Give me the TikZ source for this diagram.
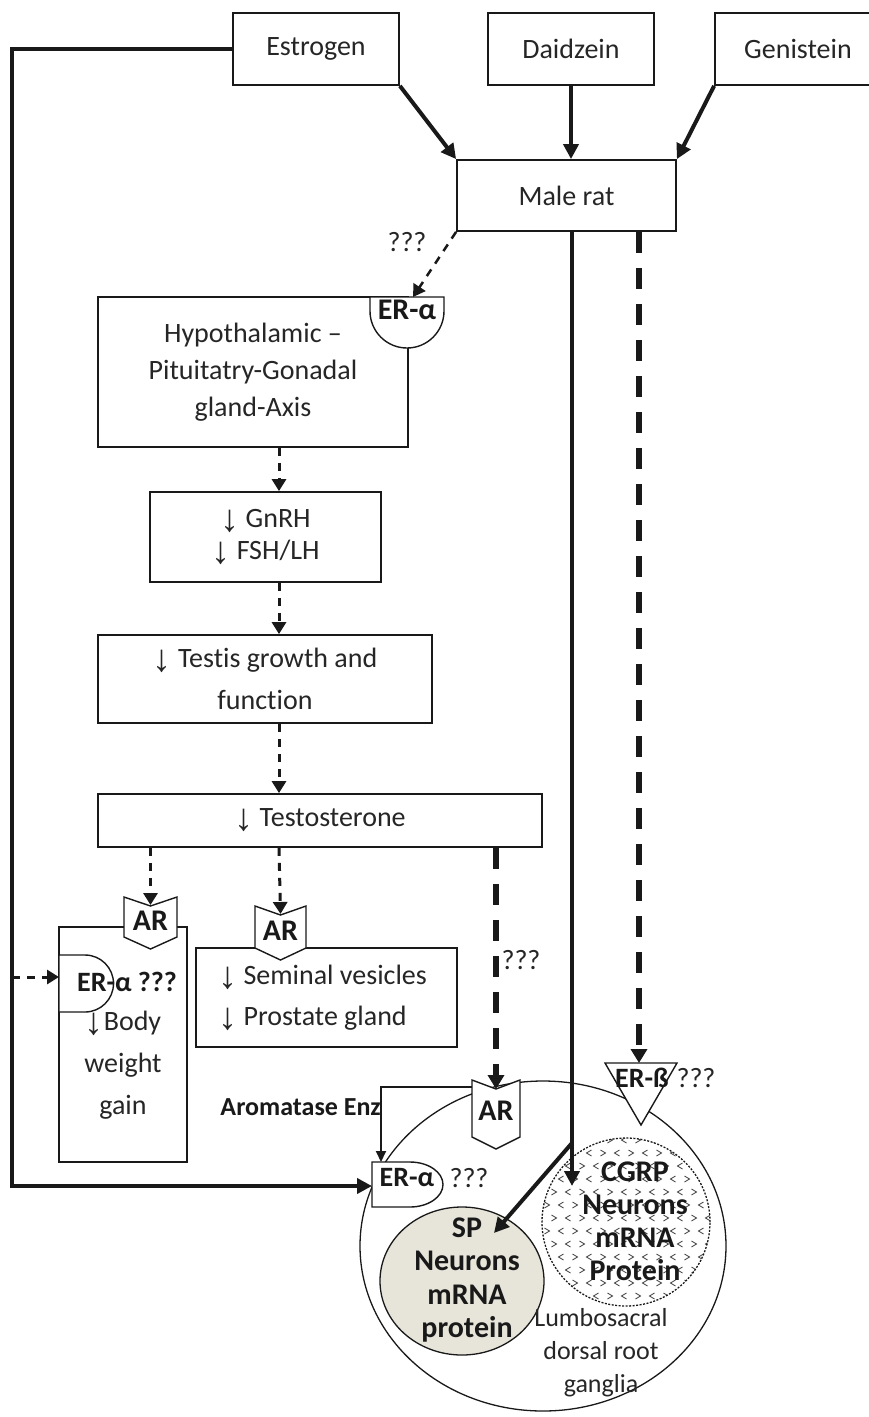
\documentclass[tikz,border=0pt]{standalone}
\usepackage{fontspec}
\setmainfont{Carlito}[Ligatures={TeX,NoCommon}]
\newfontfamily\arrfont{Liberation Sans}
\newcommand{\dn}{\raisebox{-4pt}{\arrfont\fontsize{38}{38}\selectfont ↓}}
\usetikzlibrary{arrows.meta,calc,shapes.geometric}
\newcommand{\arshp}[4]{% #1 cx, #2 top y, #3 half width, #4 side height
  \draw[recep] (#1-#3,#2) -- (#1,#2-9) -- (#1+#3,#2) -- (#1+#3,#2-#4) -- (#1,#2-#4-12) -- (#1-#3,#2-#4) -- cycle;}
\begin{document}
\begin{tikzpicture}[x=1pt,y=1pt,
  box/.style={draw=black!90, line width=1.8pt, fill=white, inner sep=0pt, align=center, text=black!85, font=\fontsize{28}{36}\selectfont},
  txt/.style={inner sep=0pt, align=center, text=black!85, font=\fontsize{28}{36}\selectfont},
  btxt/.style={inner sep=0pt, align=center, text=black!90, font=\bfseries\fontsize{28}{34}\selectfont},
  recep/.style={draw=black!90, line width=1.4pt, fill=white},
  thickarrow/.style={draw=black!90, line width=4pt, -{Triangle[length=15pt,width=15pt]}},
  thickline/.style={draw=black!90, line width=4pt},
  thinarrow/.style={draw=black!90, line width=1.8pt, -{Triangle[length=11pt,width=10pt]}},
  dasharrow/.style={draw=black!90, line width=3pt, dash pattern=on 8pt off 7pt, -{Triangle[length=12pt,width=14pt]}},
  bigdash/.style={draw=black!90, line width=5.5pt, dash pattern=on 21pt off 15pt, -{Triangle[length=14pt,width=16pt]}}
]
\useasboundingbox (0,0) rectangle (869,-1417);

% ---- top boxes
\node[box, minimum width=166, minimum height=72] (estrogen) at (316,-49) {Estrogen};
\node[box, minimum width=166, minimum height=72] (daidzein) at (571,-49) {Daidzein};
\node[box, minimum width=166, minimum height=72] (genistein) at (798,-49) {Genistein};
\node[box, minimum width=219, minimum height=71] (malerat) at (566.5,-195.5) {Male rat};

\draw[thickarrow] (estrogen.south east) -- (malerat.north west);
\draw[thickarrow] (daidzein.south) -- (daidzein.south |- malerat.north);
\draw[thickarrow] (genistein.south west) -- (malerat.north east);

% ---- HPG axis chain
\node[box, minimum width=310, minimum height=150, font=\fontsize{28}{37}\selectfont] (hypo) at (253,-372) {Hypothalamic --\\Pituitatry-Gonadal\\gland-Axis};
\draw[recep] (370,-297) -- (444,-297) -- (444,-311) arc[start angle=0,end angle=-180,radius=37] -- cycle;
\node[btxt, font=\bfseries\fontsize{30}{34}\selectfont] (era1) at (407,-310) {ER-α};
\coordinate (era1top) at (413,-297);
\draw[dasharrow, line width=2.5pt] (malerat.south west) -- (era1top);
\node[txt] (q1) at (407,-242) {???};

\node[box, minimum width=231, minimum height=90, font=\fontsize{28}{32}\selectfont] (gnrh) at (265.5,-537) {\dn\ GnRH\\\dn\ FSH/LH};
\node[box, minimum width=334, minimum height=88, font=\fontsize{28}{42}\selectfont] (testis) at (265,-679) {\dn\ Testis growth and\\function};
\node[box, minimum width=444, minimum height=53] (testo) at (320,-820.5) {\dn\ Testosterone};

\draw[dasharrow] ([xshift=26pt]hypo.south) -- ([xshift=13.5pt]gnrh.north);
\draw[dasharrow] ([xshift=13.5pt]gnrh.south) -- ([xshift=14pt]testis.north);
\draw[dasharrow] ([xshift=14pt]testis.south) -- ([xshift=-41pt]testo.north);

% ---- body weight box
\node[box, minimum width=128, minimum height=235] (body) at (123,-1044.5) {};
\node[txt, font=\fontsize{28}{42}\selectfont] (bodytxt) at (123,-1065) {\dn Body\\weight\\gain};
\draw[recep] (59,-955) -- (85,-955) arc[start angle=90,end angle=-90,radius=28.5] -- (59,-1012) -- cycle;
\node[btxt] (era2) at (127,-982) {ER-α ???};
\coordinate (era2w) at (59,-977);

% ---- seminal box
\node[box, minimum width=261, minimum height=99] (seminal) at (326.5,-997.5) {};
\node[txt, align=left, anchor=west, font=\fontsize{28}{41}\selectfont] (semtxt) at (218,-998) {\dn\ Seminal vesicles\\\dn\ Prostate gland};

% ---- AR receptors above boxes
\arshp{150.5}{-897}{26.5}{40}
\node[btxt, font=\bfseries\fontsize{30}{34}\selectfont] (ar1) at (150.5,-921) {AR};
\coordinate (ar1n) at (150.5,-905);
\arshp{280.5}{-906}{25.5}{42}
\node[btxt, font=\bfseries\fontsize{30}{34}\selectfont] (ar2) at (280.5,-931) {AR};
\coordinate (ar2n) at (280.5,-914);

\draw[dasharrow] ([xshift=-169.5pt]testo.south) -- (ar1n);
\draw[dasharrow] ([xshift=-41pt]testo.south) -- (ar2n);

% ---- ganglia
\node[draw=black!90, line width=1.3pt, ellipse, inner sep=0pt, minimum width=366, minimum height=330] (drg) at (543,-1246) {};
\fill[fill={rgb,255:red,231;green,229;blue,218}] (462,-1281) ellipse[x radius=82,y radius=74];
\draw[black!90, line width=1.3pt] (462,-1281) ellipse[x radius=82,y radius=74];
\node[btxt, font=\bfseries\fontsize{30}{33.5}\selectfont] (sp) at (467,-1280) {SP\\Neurons\\mRNA\\protein};

\begin{scope}
\clip (626,-1222) circle[radius=84];
\foreach \r in {0,...,13}{
  \foreach \c in {0,...,12}{
    \pgfmathsetmacro\xx{540+\c*14+mod(\r,2)*7}
    \pgfmathsetmacro\yy{-1140-\r*13}
    \pgfmathsetmacro\s{ifthenelse(mod(\r+\c,2)==0,1,-1)}
    \draw[black!70, line width=0.9pt] (\xx+2.5*\s,\yy+3) -- (\xx-2.5*\s,\yy) -- (\xx+2.5*\s,\yy-3);
  }}
\end{scope}
\draw[black!90, line width=1.3pt, dash pattern=on 2pt off 1.5pt] (626,-1222) circle[radius=84];
\node[btxt, font=\bfseries\fontsize{30}{33}\selectfont] (cgrp) at (635,-1221) {CGRP\\Neurons\\mRNA\\Protein};

\node[txt, font=\fontsize{26}{33}\selectfont] (lumbo) at (601,-1353) {Lumbosacral\\dorsal root\\ganglia};

% receptors on ganglia
\arshp{496}{-1080}{24}{57}
\node[btxt, font=\bfseries\fontsize{30}{34}\selectfont] (ar3) at (496,-1111) {AR};
\coordinate (ar3n) at (496,-1089);
\coordinate (ar3w) at (472,-1087);

\draw[recep] (605,-1063) -- (677,-1063) -- (641,-1125) -- cycle;
\node[btxt] (erb) at (642,-1078) {ER-ß};
\node[txt] (qb) at (696,-1078) {???};

\draw[recep] (372,-1162) -- (410,-1162) arc[start angle=90,end angle=-90,x radius=33,y radius=22.5] -- (372,-1207) -- cycle;
\node[btxt] (era3) at (407,-1178) {ER-α};
\node[txt] (q3) at (469,-1178) {???};
\coordinate (era3w) at (372,-1186);
\coordinate (era3n) at (381,-1162);

% aromatase
\node[btxt, font=\bfseries\fontsize{26}{30}\selectfont, anchor=east] (arom) at (381,-1107) {Aromatase Enz};
\draw[thinarrow] (ar3w) -| (era3n);

% testosterone -> AR3
\draw[bigdash] ([xshift=176pt]testo.south) -- (ar3n);
\node[txt] (q2) at (521,-960) {???};

% male rat -> ER-beta
\coordinate (erbtop) at (639,-1063);
\draw[bigdash] ([xshift=72.5pt]malerat.south) -- (erbtop);

% male rat -> SP / CGRP
\coordinate (split) at (572,-1143);
\coordinate (cgrpin) at (572,-1186);
\coordinate (spin) at (494,-1233);
\draw[thickline] ([xshift=5.5pt]malerat.south) -- (split);
\draw[thickarrow] (split) -- (cgrpin);
\draw[thickarrow] (split) -- (spin);

% estrogen rail
\coordinate (rail) at (12,-600);
\coordinate (branch) at (12,-977);
\draw[thickarrow, line join=miter] (estrogen.west) -| (rail) |- (era3w);
\draw[dasharrow] (branch) -- (era2w);
\end{tikzpicture}
\end{document}
